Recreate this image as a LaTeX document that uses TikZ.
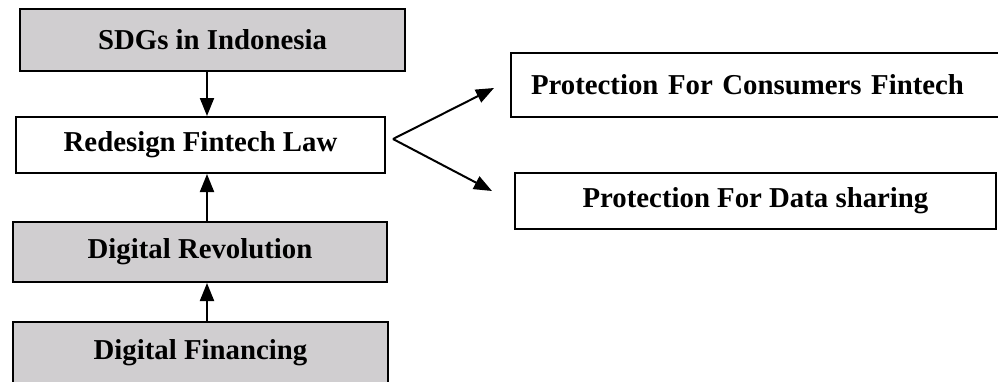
\documentclass[tikz,border=0pt]{standalone}
\usepackage{fontspec}
\setmainfont{Liberation Serif}
\usepackage{tikz}
\usetikzlibrary{arrows.meta}
\definecolor{boxgray}{RGB}{208,206,208}

\begin{document}
\begin{tikzpicture}[x=0.5pt,y=-0.5pt,
  box/.style={draw,line width=1pt,rectangle,inner sep=0pt,font=\fontsize{14.4}{17}\selectfont\bfseries},
  greybox/.style={box,fill=boxgray},
  link/.style={line width=1pt,-{Triangle[length=9pt,width=7pt]}}]
\useasboundingbox (0,0) rectangle (998,381);
\clip (0,0) rectangle (998,381);
\node[greybox,minimum width=192.5pt,minimum height=31pt] (sdg) at (212.5,40) {SDGs in Indonesia};
\node[box,minimum width=184.5pt,minimum height=28pt] (law) at (200.5,145) {Redesign Fintech Law};
\node[greybox,minimum width=187pt,minimum height=30pt] (rev) at (200,252) {Digital Revolution};
\node[greybox,minimum width=187.5pt,minimum height=31pt] (fin) at (200.5,353) {Digital Financing};
\node[box,anchor=west,inner xsep=10pt,text width=230pt,align=left,minimum height=32pt] (cons) at (510,85) {Protection For Consumers Fintech};
\node[box,minimum width=240.5pt,minimum height=28pt] (data) at (755.5,201) {Protection For Data sharing};
\coordinate (spine) at (207,0);
\draw[link] (sdg.south -| spine) -- (law.north -| spine);
\draw[link] (rev.north -| spine) -- (law.south -| spine);
\draw[link] (fin.north -| spine) -- (rev.south -| spine);
\coordinate (fork) at (393,139);
\coordinate (consTip) at (494,88);
\coordinate (dataTip) at (492,191);
\draw[link] (fork) -- (consTip);
\draw[link] (fork) -- (dataTip);
\end{tikzpicture}
\end{document}
